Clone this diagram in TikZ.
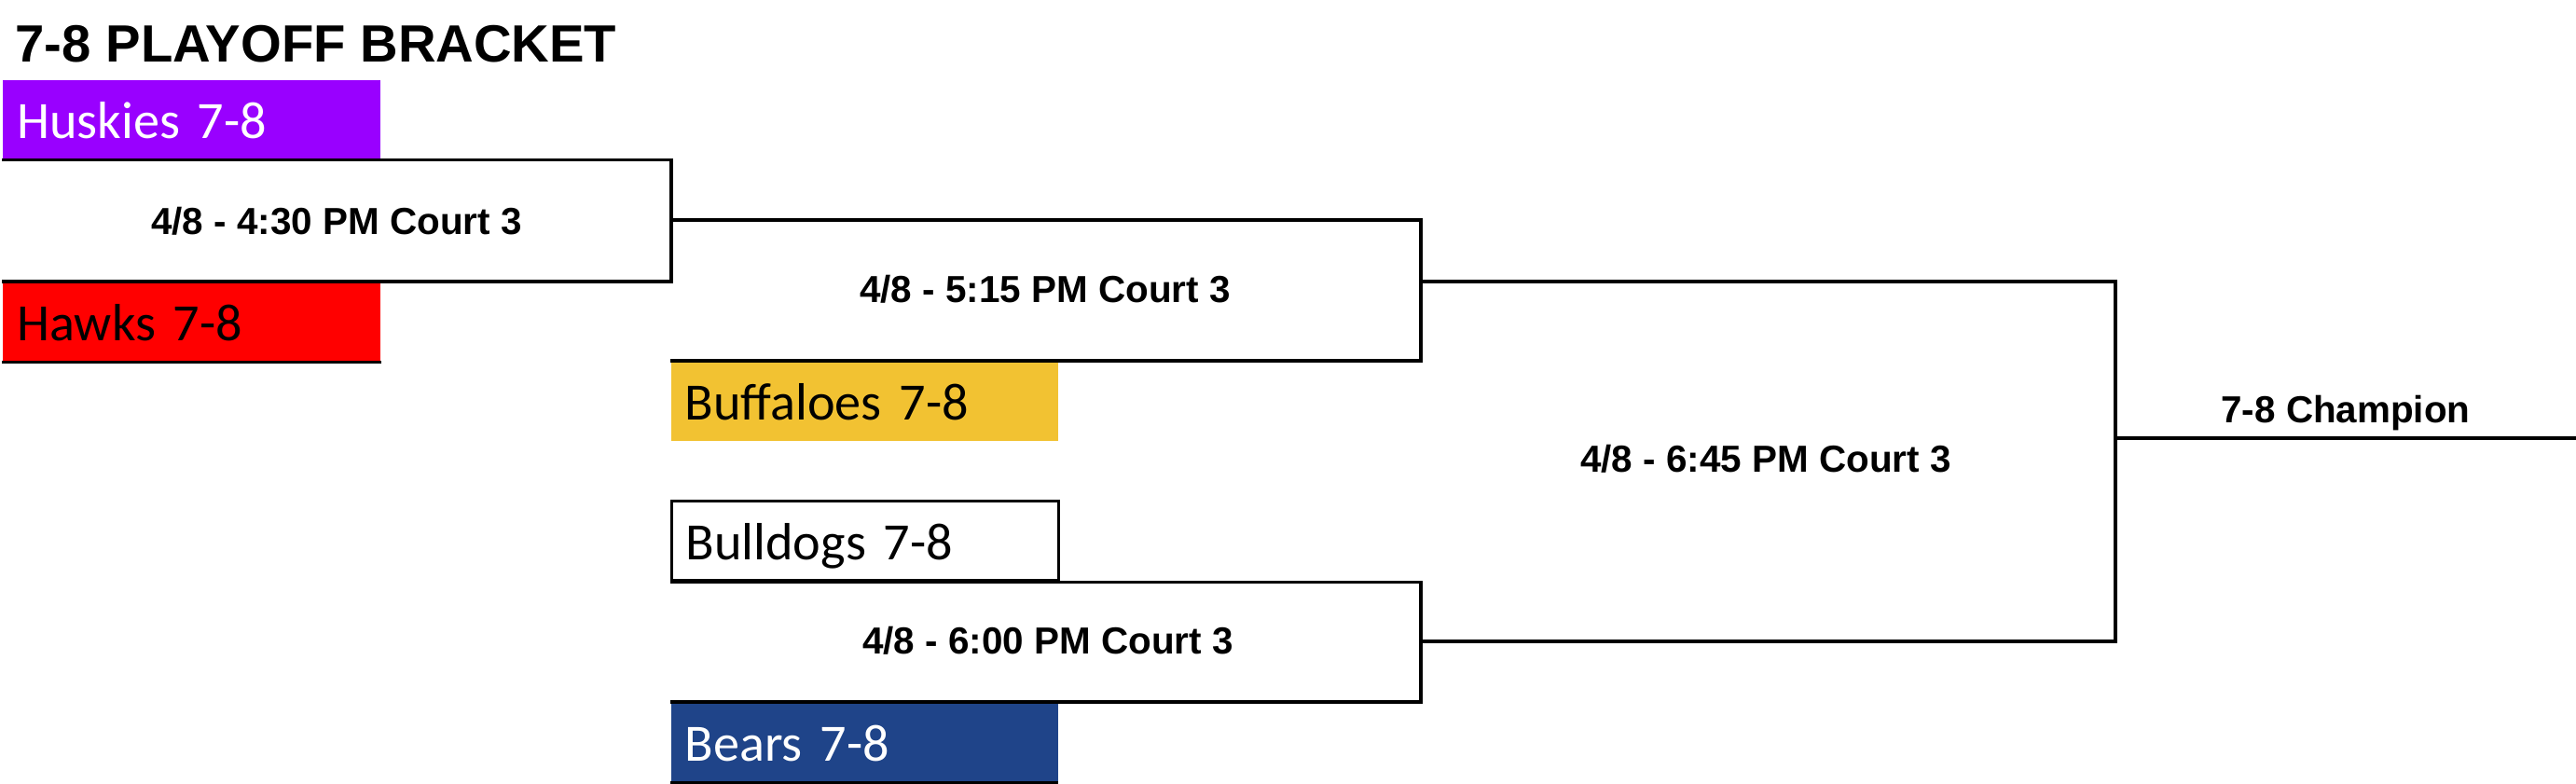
\documentclass[tikz,border=0pt]{standalone}
\usepackage{fontspec}
\setmainfont{Liberation Sans}
\newfontfamily\teamfont{Carlito}
\usetikzlibrary{positioning}
\definecolor{HuskiesPurple}{HTML}{9900FF}
\definecolor{HawksRed}{HTML}{FF0000}
\definecolor{BuffaloesGold}{HTML}{F2C232}
\definecolor{BearsBlue}{HTML}{1F4489}

\begin{document}
\begin{tikzpicture}[team/.style={rectangle, anchor=north west, font=\teamfont\fontsize{16}{19}\selectfont, minimum height=0.85cm, text width=3.75cm, inner xsep=0.15cm, inner ysep=0pt, text height=0.45cm, text depth=0.05cm, align=left}, wide/.style={text width=3.85cm}, game/.style={font=\bfseries\fontsize{11.5}{14}\selectfont, anchor=base}, bracket/.style={draw=black, line width=0.9pt}]
                        \useasboundingbox (0,0) rectangle (27.63,-8.41);
                        \node[font=\bfseries\fontsize{16}{19}\selectfont, anchor=base west, inner sep=0pt] (title) at (0.16,-0.67) {7-8 PLAYOFF BRACKET};

                        \node[team, fill=HuskiesPurple, text=white] (huskies) at (0.025,-0.85) {Huskies 7-8};
                        \node[team, fill=HawksRed] (hawks) at (0.025,-3.02) {Hawks 7-8};
                        \node[team, wide, fill=BuffaloesGold] (buffaloes) at (7.19,-3.87) {Buffaloes 7-8};
                        \node[team, wide, bracket] (bulldogs) at (7.19,-5.36) {Bulldogs 7-8};
                        \node[team, wide, fill=BearsBlue, text=white] (bears) at (7.19,-7.53) {Bears 7-8};

                        \coordinate (c1) at (7.20,-2.36);
                        \coordinate (c2) at (15.24,-3.02);
                        \coordinate (c3) at (15.24,-6.88);
                        \coordinate (c4) at (22.69,-4.70);
                        \coordinate (champend) at (27.63,-4.70);

                        \draw[bracket] (huskies.south west) -| (c1) |- (hawks.north west);
                        \draw[bracket] (hawks.south west) -- (hawks.south east);
                        \draw[bracket] (c1) -| (c2) |- (buffaloes.north west);
                        \draw[bracket] (bulldogs.south west) -| (c3) |- (bears.north west);
                        \draw[bracket] (bears.south west) -- (bears.south east);
                        \draw[bracket] (c2) -| (c4) |- (c3);
                        \draw[bracket] (c4) -- (champend);

                        \node[game] (g1) at (3.61,-2.52) {4/8 - 4:30 PM Court 3};
                        \node[game] (g2) at (11.21,-3.25) {4/8 - 5:15 PM Court 3};
                        \node[game] (g3) at (11.24,-7.02) {4/8 - 6:00 PM Court 3};
                        \node[game] (g4) at (18.94,-5.07) {4/8 - 6:45 PM Court 3};
                        \node[game] (champ) at (25.16,-4.54) {7-8 Champion};
                    \end{tikzpicture}
\end{document}
